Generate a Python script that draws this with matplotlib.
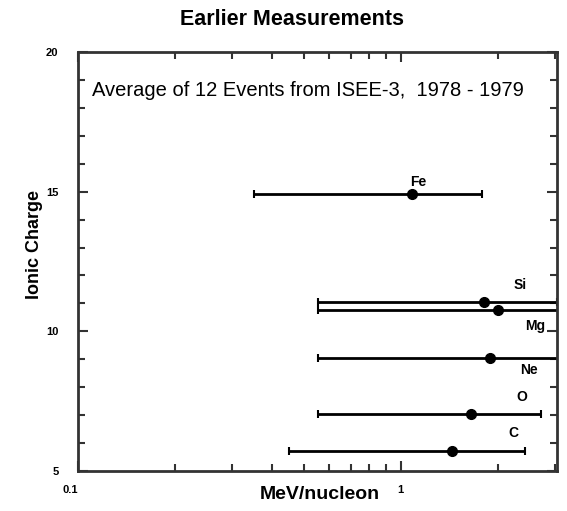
import matplotlib
matplotlib.use("Agg")
import matplotlib.pyplot as plt
from matplotlib.ticker import FixedLocator, NullFormatter, LogLocator, MultipleLocator

plt.rcParams['font.family'] = ['Liberation Sans', 'DejaVu Sans']

elements = ['Fe', 'Si', 'Mg', 'Ne', 'O', 'C']
energy = [1.08, 1.81, 2.0, 1.89, 1.65, 1.44]
charge = [14.9, 11.05, 10.75, 9.05, 7.05, 5.7]
e_low = [0.352, 0.556, 0.556, 0.556, 0.556, 0.449]
e_high = [1.78, 3.05, 3.5, 3.5, 2.72, 2.43]
label_x = [1.13, 2.34, 2.61, 2.50, 2.38, 2.23]
label_y = [15.35, 11.65, 10.2, 8.6, 7.65, 6.35]

fig = plt.figure(figsize=(5.67, 5.11), dpi=100)
ax = fig.add_axes([0.1376, 0.0783, 0.8448, 0.8199])

for i, el in enumerate(elements):
    x = energy[i]
    ax.errorbar([x], [charge[i]], xerr=[[x - e_low[i]], [e_high[i] - x]],
                fmt='o', color='black', ms=7, elinewidth=2, capsize=3,
                capthick=1.5, clip_on=True)
    ax.text(label_x[i], label_y[i], el, fontsize=10, fontweight='bold',
            ha='center', va='center')

ax.set_xscale('log')
ax.set_xlim(0.1, 3.05)
ax.set_ylim(5, 20)

ax.xaxis.set_major_locator(FixedLocator([0.1, 1]))
ax.xaxis.set_minor_locator(LogLocator(base=10, subs=range(2, 10)))
ax.xaxis.set_minor_formatter(NullFormatter())
ax.set_xticklabels(['0.1', '1'])
ax.yaxis.set_major_locator(MultipleLocator(5))
ax.yaxis.set_minor_locator(MultipleLocator(1))

ax.tick_params(which='both', direction='in', top=True, right=True,
               labelsize=8, width=1.5, color='#333333')
ax.tick_params(which='major', length=7)
ax.tick_params(which='minor', length=5)
ax.tick_params(axis='x', pad=10)
ax.tick_params(axis='y', pad=14)
xl = ax.get_xticklabels()
xl[0].set_horizontalalignment('right')
for lab in xl:
    lab.set_fontweight('bold')
for lab in ax.get_yticklabels():
    lab.set_fontweight('bold')
for s in ax.spines.values():
    s.set_linewidth(2)
    s.set_color('#333333')

ax.text(0.03, 0.907, 'Average of 12 Events from ISEE-3,  1978 - 1979',
        transform=ax.transAxes, fontsize=14.5, ha='left', va='center')

fig.text(0.515, 0.961, 'Earlier Measurements', fontsize=15.5, fontweight='bold',
         ha='center', va='center')
ax.set_xlabel('MeV/nucleon', fontsize=14, fontweight='bold')
ax.xaxis.set_label_coords(0.505, -0.057)
ax.xaxis.label.set_va('center')
ax.set_ylabel('Ionic Charge', fontsize=13, fontweight='bold')
ax.yaxis.set_label_coords(-0.09, 0.54)
ax.yaxis.label.set_va('center')

fig.savefig('out.png', dpi=100)
